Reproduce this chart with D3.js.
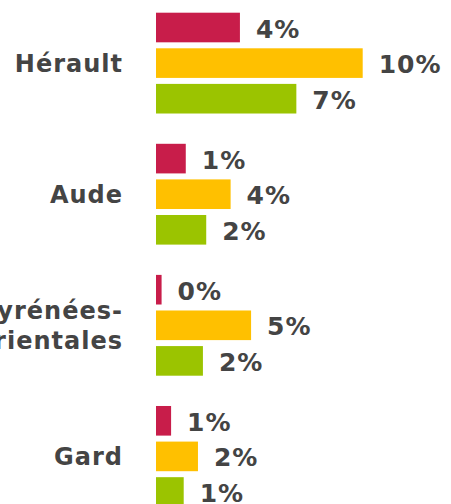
<!DOCTYPE html>
<html>
<head>
<meta charset="utf-8">
<script src="https://cdn.jsdelivr.net/npm/d3@7"></script>
<style>
  body { margin: 0; background: #fff; }
  text { font-family: "DejaVu Sans", Verdana, sans-serif; font-weight: bold; fill: #444; letter-spacing: 1px; }
</style>
</head>
<body>
<div id="my_dataviz"></div>
<script>
// departments (top to bottom) and the three series, in percent
var categories = ["Hérault", "Aude", "Pyrénées-\nOrientales", "Gard"];
var seriesNames = ["s1", "s2", "s3"];
var series1 = [4.06, 1.44, 0.27, 0.73];
var series2 = [10.0, 3.61, 4.60, 2.03];
var series3 = [6.79, 2.43, 2.27, 1.34];
var colors = ["#C81D4A", "#FFC000", "#9BC400"];

var width = 451, height = 504;

var svg = d3.select("#my_dataviz")
    .append("svg")
    .attr("width", width)
    .attr("height", height);

var allSeries = [series1, series2, series3];

// one record per bar
var data = [];
categories.forEach(function (c, i) {
    allSeries.forEach(function (s, j) {
        data.push({ cat: c, key: seriesNames[j], value: s[i], color: colors[j] });
    });
});

var x = d3.scaleLinear()
    .domain([0, 10])
    .range([156, 362.7]);

var y0 = d3.scaleBand()
    .domain(categories)
    .range([12.7, 12.7 + 494.1])
    .paddingInner(0.231)
    .paddingOuter(0);

var y1 = d3.scaleBand()
    .domain(seriesNames)
    .range([0, y0.bandwidth()])
    .paddingInner(0.168);

// bars
svg.selectAll("rect.bar")
    .data(data)
    .enter()
    .append("rect")
    .attr("class", "bar")
    .attr("x", x(0))
    .attr("y", function (d) { return y0(d.cat) + y1(d.key); })
    .attr("width", function (d) { return x(d.value) - x(0); })
    .attr("height", y1.bandwidth())
    .attr("fill", function (d) { return d.color; });

// value labels
svg.selectAll("text.val")
    .data(data)
    .enter()
    .append("text")
    .attr("class", "val")
    .attr("x", function (d) { return x(d.value) + 16; })
    .attr("y", function (d) { return y0(d.cat) + y1(d.key) + y1.bandwidth() / 2; })
    .attr("dy", "0.4em")
    .style("font-size", "25px")
    .text(function (d) { return Math.round(d.value) + "%"; });

// category labels, right aligned, can wrap on "\n"
var cat = svg.selectAll("text.cat")
    .data(categories)
    .enter()
    .append("text")
    .attr("class", "cat")
    .attr("text-anchor", "end")
    .style("font-size", "24px")
    .attr("transform", function (d) {
        return "translate(123," + (y0(d) + y0.bandwidth() / 2) + ")";
    });

cat.each(function (d) {
    var lines = d.split("\n");
    var t = d3.select(this);
    lines.forEach(function (l, k) {
        t.append("tspan")
            .attr("x", 0)
            .attr("y", (k - (lines.length - 1) / 2) * 30)
            .attr("dy", "0.35em")
            .text(l);
    });
});
</script>
</body>
</html>
